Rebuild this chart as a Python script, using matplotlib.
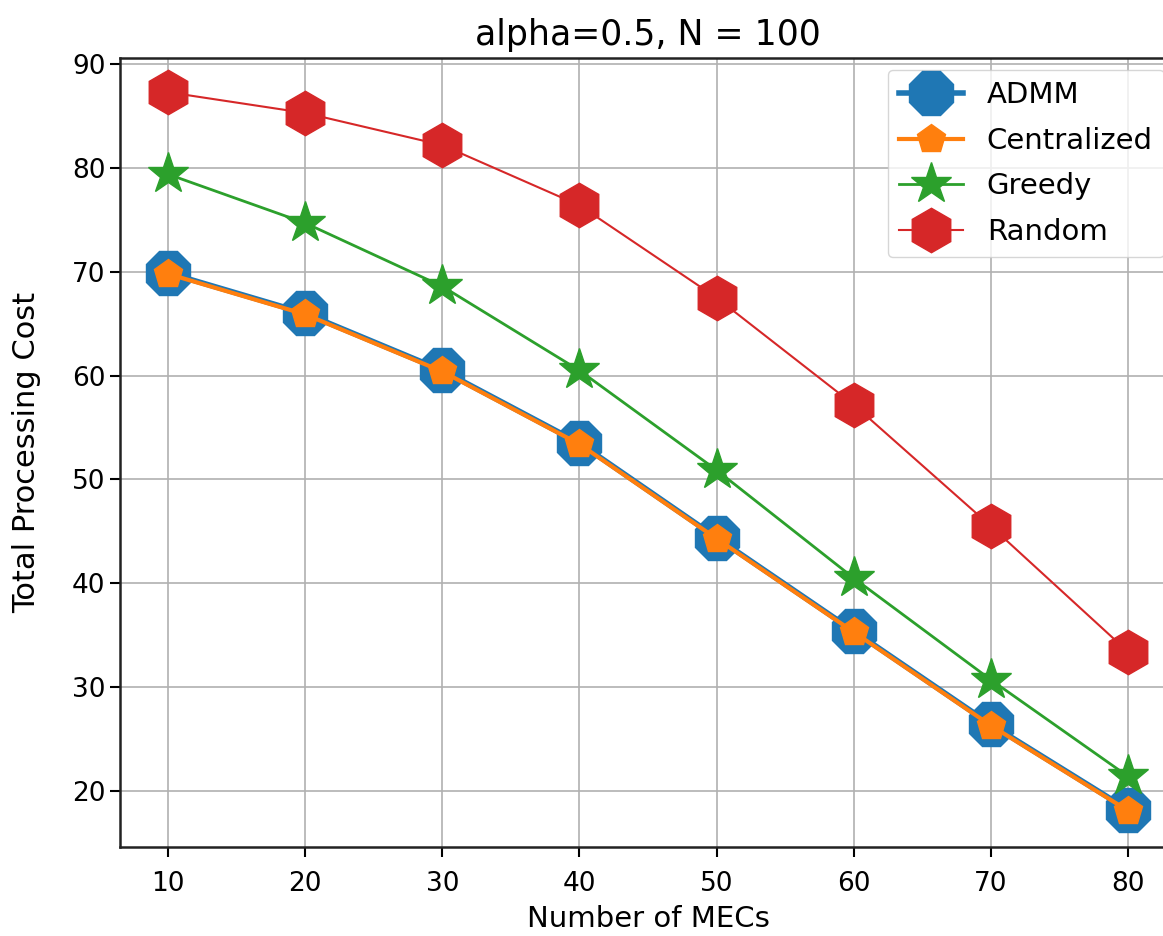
import matplotlib
matplotlib.use("Agg")
import matplotlib.pyplot as plt

mecs = [10, 20, 30, 40, 50, 60, 70, 80]
admm = [69.9, 66.0, 60.5, 53.5, 44.4, 35.4, 26.4, 18.2]
centralized = [69.8, 65.9, 60.4, 53.4, 44.3, 35.3, 26.3, 18.1]
greedy = [79.4, 74.7, 68.6, 60.5, 50.9, 40.5, 30.7, 21.4]
random_ = [87.3, 85.3, 82.2, 76.4, 67.5, 57.2, 45.5, 33.4]

fig = plt.figure(figsize=(11.63, 9.36), dpi=100)
ax = fig.add_axes([0.1032, 0.0951, 0.908, 0.843])

ax.plot(mecs, admm, marker='8', markersize=35, lw=4, color='#1f77b4', label='ADMM')
ax.plot(mecs, centralized, marker='p', markersize=21, lw=3, color='#ff7f0e', label='Centralized')
ax.plot(mecs, greedy, marker='*', markersize=31, lw=2, color='#2ca02c', label='Greedy')
ax.plot(mecs, random_, marker='h', markersize=32, lw=1.5, color='#d62728', label='Random')

ax.set_xlim(6.5, 83.5)
ax.set_ylim(14.6, 90.6)
ax.set_xticks(mecs)
ax.set_yticks([20, 30, 40, 50, 60, 70, 80, 90])
ax.grid(True, color='#b0b0b0', lw=1.2)
ax.tick_params(labelsize=19, length=7, width=1.5)
ax.tick_params(axis='x', pad=10)
for s in ax.spines.values():
    s.set_linewidth(1.8)
    s.set_color('#222222')
ax.spines['right'].set_visible(False)

ax.set_title('alpha=0.5, N = 100', fontsize=25, pad=9)
ax.set_xlabel('Number of MECs', fontsize=21, labelpad=6)
ax.set_ylabel('Total Processing Cost', fontsize=22, labelpad=22)
ax.legend(loc='upper right', fontsize=21, borderaxespad=0.4, labelspacing=0.6,
          handlelength=2.2)

fig.savefig('out.png', dpi=100)
